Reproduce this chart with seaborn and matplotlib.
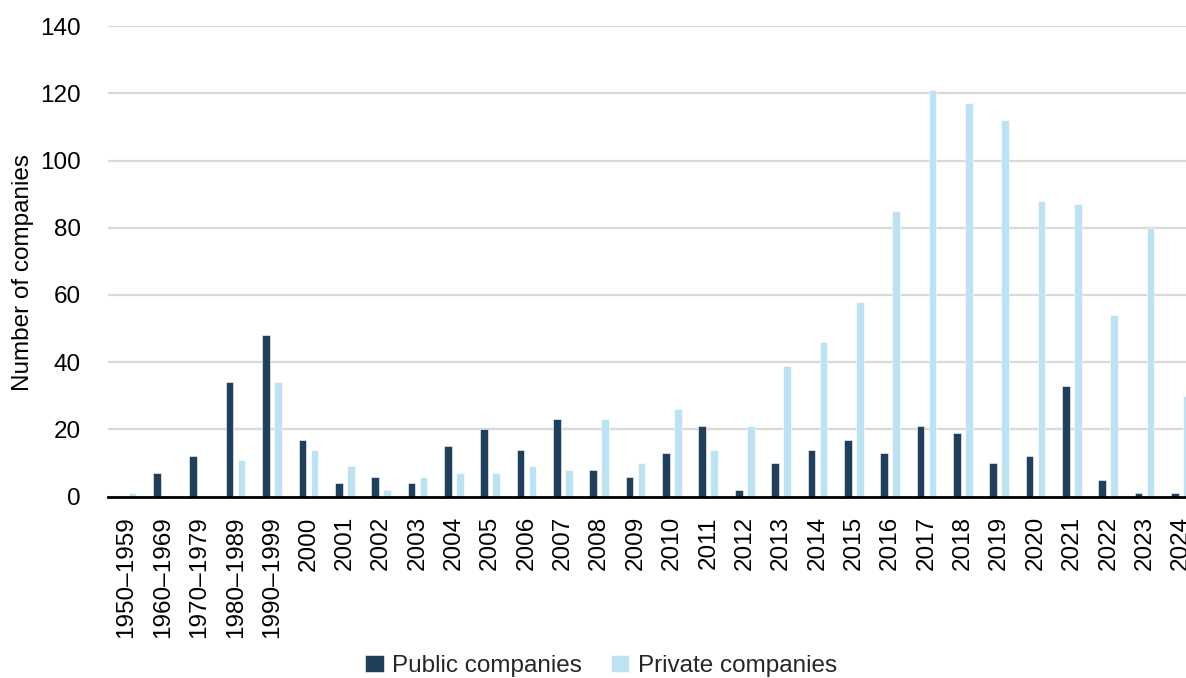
import matplotlib
matplotlib.use("Agg")
import matplotlib.pyplot as plt
import seaborn as sns
import pandas as pd

periods = ["1950–1959", "1960–1969", "1970–1979", "1980–1989", "1990–1999"] + \
          [str(y) for y in range(2000, 2025)]
public_companies = [0, 7, 12, 34, 48, 17, 4, 6, 4, 15, 20, 14, 23, 8, 6, 13, 21, 2,
                    10, 14, 17, 13, 21, 19, 10, 12, 33, 5, 1, 1]
private_companies = [1, 0, 0, 11, 34, 14, 9, 2, 6, 7, 7, 9, 8, 23, 10, 26, 14, 21,
                     39, 46, 58, 85, 121, 117, 112, 88, 87, 54, 80, 30]
series_names = ["Public companies", "Private companies"]
series_colors = ["#1f3f5a", "#bde2f2"]

df = pd.DataFrame({
    "period": periods * 2,
    "count": public_companies + private_companies,
    "series": [series_names[0]] * len(periods) + [series_names[1]] * len(periods),
})

sns.set_theme(style="white")
plt.rcParams["font.family"] = ["Liberation Sans", "DejaVu Sans"]

fig = plt.figure(figsize=(11.86, 6.78), dpi=100)
ax = fig.add_axes([0.0914, 0.2674, 0.9197, 0.6942])

sns.barplot(data=df, x="period", y="count", hue="series", order=periods,
            hue_order=series_names, palette=series_colors, width=0.66, gap=0.36,
            saturation=1, edgecolor="white", linewidth=0.4, ax=ax, zorder=3)

ax.set_xlim(-0.5, len(periods) - 0.5)
ax.set_ylim(0, 140)
ax.set_yticks(range(0, 141, 20))
ax.yaxis.grid(True, color="#d9d9d9", linewidth=1.6, zorder=0)
ax.set_axisbelow(True)
for side in ["left", "right", "top"]:
    ax.spines[side].set_visible(False)
ax.spines["bottom"].set_color("black")
ax.spines["bottom"].set_linewidth(2)
ax.spines["bottom"].set_zorder(5)

ax.tick_params(axis="x", labelsize=17.5, rotation=90, length=0, pad=14, colors="black")
ax.tick_params(axis="y", labelsize=17.5, length=0, pad=20, colors="black")
ax.set_xlabel("")
ax.set_ylabel("Number of companies", fontsize=17.5, labelpad=4, color="black")
ax.yaxis.label.set_y(0.477)

ax.get_legend().remove()
handles, labels = ax.get_legend_handles_labels()
fig.legend(handles, labels, loc="center", bbox_to_anchor=(0.507, 0.018), ncol=2,
           frameon=False, fontsize=17.5, handlelength=0.75, handleheight=0.75,
           handletextpad=0.35, columnspacing=1.2)

fig.savefig("out.png", dpi=100)
